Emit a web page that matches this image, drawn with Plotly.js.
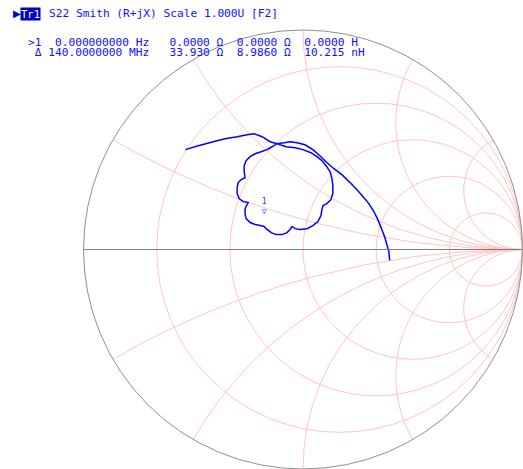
<!DOCTYPE html>
<html>
<head>
<meta charset="utf-8">
<script src="https://cdn.plot.ly/plotly-3.0.1.min.js"></script>
<style>html,body{margin:0;padding:0;background:#fff;}#chart{width:523px;height:469px;}</style>
</head>
<body>
<div id="chart"></div>
<script>
const gammaRe = [
  -0.536,-0.477,-0.409,-0.355,-0.300,-0.255,-0.223,-0.186,-0.150,-0.118,
  -0.077,-0.036,0.000,0.036,0.064,0.086,0.105,0.123,0.132,0.136,0.136,0.127,0.109,0.091,0.086,0.082,0.068,0.045,0.018,-0.014,-0.036,-0.050,-0.059,-0.073,-0.095,-0.123,-0.145,-0.168,-0.177,-0.195,-0.218,-0.241,-0.259,-0.264,-0.264,-0.250,-0.273,-0.291,-0.300,-0.300,-0.295,-0.282,-0.264,-0.268,-0.268,-0.259,-0.241,-0.218,-0.191,-0.164,-0.141,-0.118,
  -0.086,-0.059,-0.027,0.009,0.045,0.077,0.105,0.141,0.177,0.214,0.245,0.273,0.300,0.323,0.341,0.359,0.373,0.382,0.391,0.395
];
const gammaIm = [
  0.455,0.473,0.491,0.505,0.514,0.523,0.527,0.514,0.491,0.482,
  0.468,0.464,0.455,0.441,0.423,0.405,0.382,0.355,0.323,0.291,0.255,0.227,0.209,0.200,0.182,0.155,0.127,0.109,0.095,0.091,0.095,0.105,0.091,0.077,0.068,0.068,0.077,0.095,0.105,0.109,0.114,0.123,0.141,0.164,0.186,0.214,0.218,0.232,0.255,0.282,0.305,0.318,0.327,0.355,0.382,0.405,0.423,0.436,0.445,0.455,0.468,0.482,
  0.486,0.491,0.486,0.477,0.455,0.427,0.400,0.368,0.341,0.305,0.273,0.241,0.209,0.173,0.136,0.091,0.055,0.023,-0.009,-0.050
];
// Marker 1 reflection coefficient
const marker1Re = [-0.177];
const marker1Im = [0.105];
const markerLabels = ["1<br>\u25BD<br>\u00a0"];

// Smith grid values (resistance circles, reactance arcs)
const resistanceGrid = [0.2, 0.5, 1, 2, 5];
const reactanceGrid = [-3.732, -1.732, -1, -0.577, -0.268, 0.268, 0.577, 1, 1.732, 3.732];

// Header texts
const headerTitle = "S22 Smith (R+jX) Scale 1.000U [F2]";
const traceTag = "Tr1";
const markerLine1 = ">1  0.000000000 Hz   0.0000 \u03A9  0.0000 \u03A9  0.0000 H";
const markerLine2 = " \u0394 140.0000000 MHz   33.930 \u03A9  8.9860 \u03A9  10.215 nH";

function toZ(re, im) {
  const zr = [], zi = [];
  for (let i = 0; i < re.length; i++) {
    const a = re[i], b = im[i];
    const d = (1 - a) * (1 - a) + b * b;
    zr.push((1 - a * a - b * b) / d);
    zi.push((2 * b) / d);
  }
  return [zr, zi];
}
const [tr, ti] = toZ(gammaRe, gammaIm);
const [mr, mi] = toZ(marker1Re, marker1Im);

const nb = s => s.replace(/ /g, "\u00a0");
const blue = "#1010ff";
const mono = "DejaVu Sans Mono, monospace";

const data = [
  {
    type: "scattersmith", real: tr, imag: ti, mode: "lines",
    line: {color: "#0000ff", width: 1.5}, hoverinfo: "skip", showlegend: false
  },
  {
    type: "scattersmith", real: mr, imag: mi, mode: "text",
    text: markerLabels, textposition: "top center",
    textfont: {family: mono, size: 8, color: "#3030ff"},
    hoverinfo: "skip", showlegend: false
  }
];

const W = 523, H = 469;
const px = x => x / W, py = y => 1 - y / H;

const layout = {
  width: W, height: H,
  margin: {l: 0, r: 0, t: 0, b: 0},
  paper_bgcolor: "#ffffff",
  showlegend: false,
  smith: {
    domain: {x: [83 / W, 1], y: [0, 1 - 30 / H]},
    bgcolor: "#ffffff",
    realaxis: {
      tickvals: resistanceGrid, showticklabels: false, ticks: "",
      gridcolor: "#ffc4c4", gridwidth: 1,
      showline: true, linecolor: "#808080", linewidth: 1
    },
    imaginaryaxis: {
      tickvals: reactanceGrid, showticklabels: false, ticks: "",
      gridcolor: "#ffc4c4", gridwidth: 1,
      showline: true, linecolor: "#909090", linewidth: 1
    }
  },
  annotations: [
    {xref: "paper", yref: "paper", x: px(11), y: py(14), xanchor: "left", yanchor: "middle",
     text: "\u25B6", showarrow: false, font: {family: "DejaVu Sans", size: 10, color: "#0000c8"}},
    {xref: "paper", yref: "paper", x: px(20), y: py(14), xanchor: "left", yanchor: "middle",
     text: traceTag, showarrow: false, bgcolor: "#0000c8", borderpad: 0,
     font: {family: mono, size: 10.5, color: "#ffffff"}},
    {xref: "paper", yref: "paper", x: px(47), y: py(14), xanchor: "left", yanchor: "middle",
     text: nb(headerTitle), showarrow: false, font: {family: mono, size: 11.2, color: blue}},
    {xref: "paper", yref: "paper", x: px(26), y: py(43), xanchor: "left", yanchor: "middle",
     text: nb(markerLine1), showarrow: false, font: {family: mono, size: 11.2, color: blue}},
    {xref: "paper", yref: "paper", x: px(26), y: py(53), xanchor: "left", yanchor: "middle",
     text: nb(markerLine2), showarrow: false, font: {family: mono, size: 11.2, color: blue}}
  ]
};

Plotly.newPlot("chart", data, layout, {displayModeBar: false, staticPlot: true});
</script>
</body>
</html>
